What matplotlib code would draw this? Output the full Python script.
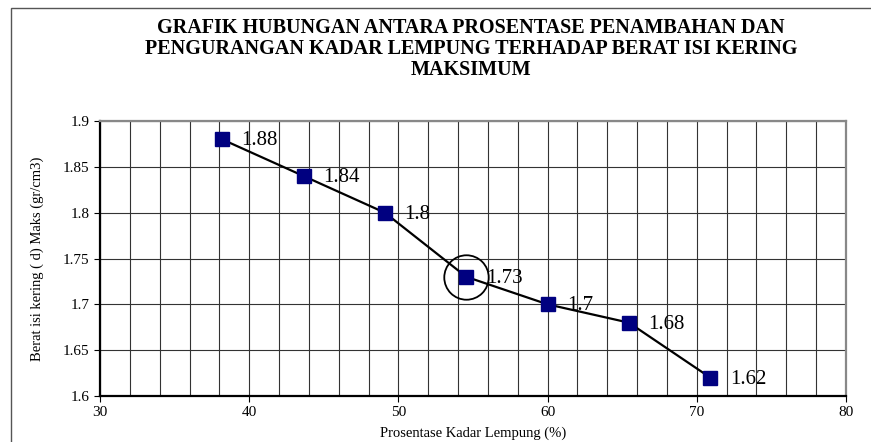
import matplotlib.pyplot as plt
from matplotlib.ticker import MultipleLocator
from matplotlib.patches import Rectangle

plt.rcParams['font.family'] = ['Liberation Serif', 'DejaVu Serif']

# data kadar lempung vs berat isi kering
kadar = [38.18, 43.64, 49.09, 54.55, 60.0, 65.45, 70.91]
berat = [1.88, 1.84, 1.80, 1.73, 1.70, 1.68, 1.62]
label = ['1.88', '1.84', '1.8', '1.73', '1.7', '1.68', '1.62']
titik_lingkar = 3  # titik yang dilingkari

fig = plt.figure(figsize=(8.71, 4.42), dpi=100)
ax = fig.add_axes([100 / 871, 1 - 396 / 442, 746 / 871, 275 / 442])

# bingkai luar
fig.patches.append(Rectangle((11 / 871, -0.1), 1.0, 1 - 8 / 442 + 0.1,
                             transform=fig.transFigure, fill=False,
                             edgecolor='#555555', linewidth=1.0))

ax.plot(kadar, berat, color='black', linewidth=1.6, marker='s', markersize=10,
        markerfacecolor='#000080', markeredgecolor='#000080', zorder=3)
ax.plot(kadar[titik_lingkar], berat[titik_lingkar], marker='o', markersize=32,
        markerfacecolor='none', markeredgecolor='black', markeredgewidth=1.3, zorder=4)

for x, y, t in zip(kadar, berat, label):
    ax.annotate(t, (x, y), xytext=(14, -1), textcoords='offset points',
                va='center', ha='left', fontsize=15)

ax.set_xlim(30, 80)
ax.set_ylim(1.6, 1.9)
ax.xaxis.set_major_locator(MultipleLocator(10))
ax.xaxis.set_minor_locator(MultipleLocator(2))
ax.set_yticks([1.6, 1.65, 1.7, 1.75, 1.8, 1.85, 1.9])
ax.set_yticklabels(['1.6', '1.65', '1.7', '1.75', '1.8', '1.85', '1.9'])
ax.grid(which='both', axis='x', color='#333333', linewidth=0.8)
ax.grid(which='major', axis='y', color='#333333', linewidth=0.8)
ax.tick_params(which='minor', length=0)
ax.tick_params(which='major', direction='out', length=4, labelsize=11, color='black')

ax.spines['left'].set_linewidth(1.6)
ax.spines['bottom'].set_linewidth(1.6)
ax.spines['top'].set_color('#888888')
ax.spines['right'].set_color('#888888')
ax.spines['top'].set_linewidth(1.6)
ax.spines['right'].set_linewidth(1.6)

ax.set_xlabel('Prosentase Kadar Lempung (%)', fontsize=10.5, labelpad=5)
ax.set_ylabel('Berat isi kering ( d) Maks (gr/cm3)', fontsize=10.5, labelpad=14)

fig.text(471 / 871, 1 - 49 / 442,
         'GRAFIK HUBUNGAN ANTARA PROSENTASE PENAMBAHAN DAN\n'
         'PENGURANGAN KADAR LEMPUNG TERHADAP BERAT ISI KERING\nMAKSIMUM',
         ha='center', va='center', fontsize=14.5, fontweight='bold', linespacing=1.08)

fig.savefig('out.png', dpi=100)
